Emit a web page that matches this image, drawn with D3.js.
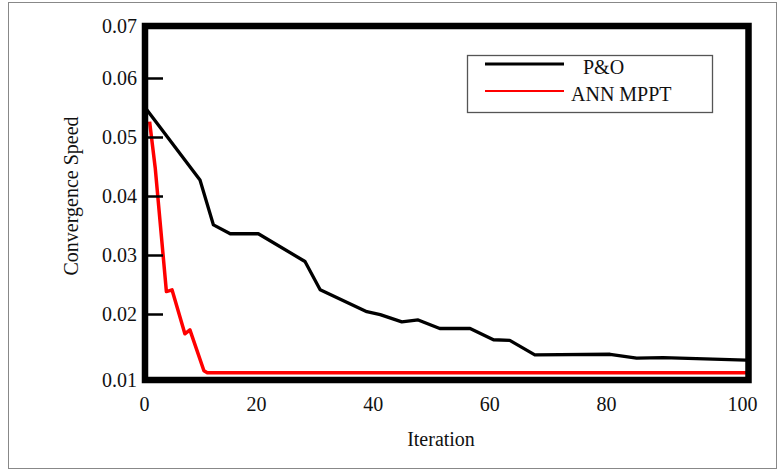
<!DOCTYPE html>
<html>
<head>
<meta charset="utf-8">
<script src="https://cdnjs.cloudflare.com/ajax/libs/d3/7.8.5/d3.min.js"></script>
<style>
  body { margin: 0; background: #fff; }
  text { font-family: "Liberation Serif", "Times New Roman", serif; fill: #111; font-weight: 400; }
</style>
</head>
<body>
<div id="chart"></div>
<script>
var svgWidth = 780;
var svgHeight = 471;

// x tick labels and y tick labels
var xTicks = [0, 20, 40, 60, 80, 100];
var yTicks = [0.01, 0.02, 0.03, 0.04, 0.05, 0.06, 0.07];

// P&O (iteration, value)
var poIter = [0.5, 10, 12.4, 15.4, 20.4, 28.4, 31, 39, 41.3, 45, 47.8, 51.5, 56.7, 60.7, 63.5, 67.8, 80.6, 84.5, 88.4, 100.6];
var poVal = [0.0546, 0.0427, 0.0351, 0.0336, 0.0336, 0.0289, 0.0241, 0.0204, 0.0199, 0.0188, 0.0191, 0.0178, 0.0178, 0.0161, 0.0160, 0.0138, 0.0139, 0.0133, 0.0134, 0.0130];

// ANN MPPT (iteration, value)
var annIter = [1, 2, 4, 5, 7.3, 8.2, 10.7, 11.3, 100.6];
var annVal = [0.0526, 0.0448, 0.0238, 0.0241, 0.0170, 0.0176, 0.0114, 0.0111, 0.0111];

var seriesNames = ["P&O", "ANN MPPT"];
var seriesColors = ["#000000", "#ff0000"];

var svg = d3.select("#chart")
  .append("svg")
  .attr("width", svgWidth)
  .attr("height", svgHeight);

// outer thin border
svg.append("rect")
  .attr("x", 8.5)
  .attr("y", 2.5)
  .attr("width", 768)
  .attr("height", 466)
  .attr("fill", "none")
  .attr("stroke", "#888")
  .attr("stroke-width", 1);

// scales (piecewise, the original axis spacing is a bit uneven)
var xScale = d3.scaleLinear()
  .domain([0, 20, 80, 100])
  .range([144, 256, 606, 742]);

var yScale = d3.scaleLinear()
  .domain([0.01, 0.02, 0.06, 0.07])
  .range([380, 314, 78, 26]);

var line = d3.line()
  .x(d => xScale(d[0]))
  .y(d => yScale(d[1]));

var poData = poIter.map((x, i) => [x, poVal[i]]);
var annData = annIter.map((x, i) => [x, annVal[i]]);

svg.append("path")
  .datum(poData)
  .attr("d", line)
  .attr("fill", "none")
  .attr("stroke", seriesColors[0])
  .attr("stroke-width", 3.3)
  .attr("stroke-linejoin", "round");

svg.append("path")
  .datum(annData)
  .attr("d", line)
  .attr("fill", "none")
  .attr("stroke", seriesColors[1])
  .attr("stroke-width", 3.5)
  .attr("stroke-linejoin", "round");

// y axis, ticks pointing inward
var yAxis = svg.append("g")
  .attr("transform", "translate(145,0)")
  .call(d3.axisLeft(yScale)
    .tickValues(yTicks)
    .tickSizeInner(-18)
    .tickSizeOuter(0)
    .tickPadding(8)
    .tickFormat(d3.format(".2f")));
yAxis.attr("font-family", null).attr("font-size", null);
yAxis.select(".domain").remove();
yAxis.selectAll("line").attr("stroke", "#000").attr("stroke-width", 2.5);
yAxis.selectAll("text").attr("font-size", 20).attr("fill", "#111");

// x axis, labels only
var xAxis = svg.append("g")
  .attr("transform", "translate(0,380)")
  .call(d3.axisBottom(xScale)
    .tickValues(xTicks)
    .tickSize(0)
    .tickPadding(17)
    .tickFormat(d3.format("d")));
xAxis.attr("font-family", null).attr("font-size", null);
xAxis.select(".domain").remove();
xAxis.selectAll("text").attr("font-size", 20).attr("fill", "#111");

// thick plot frame
svg.append("rect")
  .attr("x", 145)
  .attr("y", 26)
  .attr("width", 603.5)
  .attr("height", 354)
  .attr("fill", "none")
  .attr("stroke", "#000")
  .attr("stroke-width", 6.5);

// axis titles
svg.append("text")
  .attr("x", 441)
  .attr("y", 446)
  .attr("text-anchor", "middle")
  .attr("font-size", 20)
  .text("Iteration");

svg.append("text")
  .attr("transform", "translate(78,196) rotate(-90)")
  .attr("text-anchor", "middle")
  .attr("font-size", 20)
  .text("Convergence Speed");

// legend
var legend = svg.append("g");
legend.append("rect")
  .attr("x", 467.5)
  .attr("y", 55.5)
  .attr("width", 245)
  .attr("height", 57)
  .attr("fill", "#fff")
  .attr("stroke", "#555")
  .attr("stroke-width", 1.3);

var legendY = [64, 91];
var legendTextX = [583, 571];
var legendTextY = [74, 101];
seriesNames.forEach(function(name, i) {
  legend.append("line")
    .attr("x1", 485)
    .attr("x2", 564)
    .attr("y1", legendY[i])
    .attr("y2", legendY[i])
    .attr("stroke", seriesColors[i])
    .attr("stroke-width", i === 0 ? 3 : 2.2);
  legend.append("text")
    .attr("x", legendTextX[i])
    .attr("y", legendTextY[i])
    .attr("font-size", 20)
    .text(name);
});
</script>
</body>
</html>
